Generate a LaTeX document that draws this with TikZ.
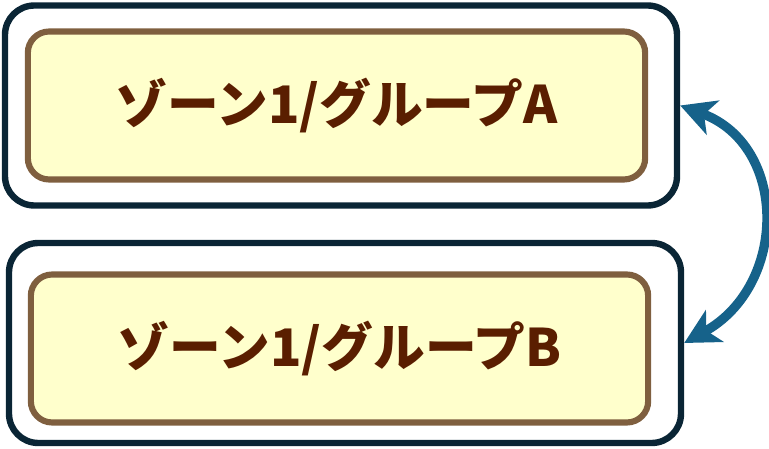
\documentclass[tikz,border=0pt]{standalone}
\usepackage{fontspec}
\usetikzlibrary{arrows.meta}
\newfontfamily\jpfont{Noto Sans CJK JP}
\definecolor{zoneline}{RGB}{10,37,53}
\definecolor{groupline}{RGB}{127,95,63}
\definecolor{groupfill}{RGB}{255,255,204}
\definecolor{grouptext}{RGB}{90,30,0}
\definecolor{swaparrow}{RGB}{22,98,138}
\tikzset{
  zonebox/.style={draw=zoneline, line width=4.8pt, rounded corners=22pt, minimum width=504pt, minimum height=150pt, inner sep=0pt},
  groupbox/.style={draw=groupline, fill=groupfill, line width=4.6pt, rounded corners=16pt, minimum width=463pt, minimum height=111pt, inner sep=0pt,
    text=grouptext, font=\jpfont\bfseries\fontsize{38.8}{42}\selectfont},
}
\begin{document}
\begin{tikzpicture}[x=0.75pt,y=0.75pt,yscale=-1,xscale=1]
\useasboundingbox (0,0) rectangle (769,449);

%Shape: Rounded Rect [id:zoneA]
\node [zonebox] (zoneA) at (341,105.5) {};
%Shape: Rounded Rect [id:zoneB]
\node [zonebox] (zoneB) at (345,343) {};

% Text Node
\node [groupbox] (groupA) at (336.5,105.5) {ゾーン1/グループA};
% Text Node
\node [groupbox] (groupB) at (339.5,348.5) {ゾーン1/グループB};

%Curve Lines [id:swap]
\draw [swaparrow, line width=7pt, {Stealth[length=26pt,width=27pt,inset=7pt]}-{Stealth[length=26pt,width=27pt,inset=7pt]}]
  (zoneA.east) .. controls +(108,40) and +(104,-58) .. (zoneB.east) ;

\end{tikzpicture}
\end{document}
